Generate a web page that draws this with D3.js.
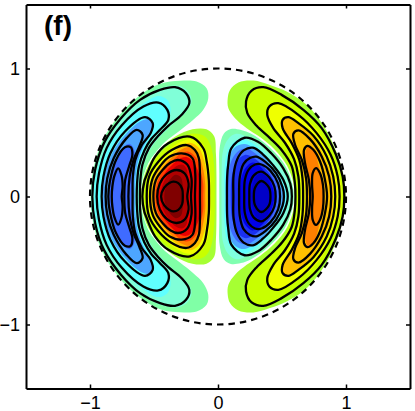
<!DOCTYPE html>
<html>
<head>
<meta charset="utf-8">
<script src="https://cdn.jsdelivr.net/npm/d3@7"></script>
<style>
  body { margin: 0; background: #fff; }
  text { font-family: "Liberation Sans", Arial, sans-serif; }
</style>
</head>
<body>
<div id="chart"></div>
<script>
// every shape below is the upper half of a contour,
// running from one point on y=0 to the other; the lower half is its mirror

var panelLabel = "(f)";
var tickValues = [-1, 0, 1];
var domainLimit = 1.5;
var rimRadius = 1;

// left crescent, filled bands, outer to inner
var leftOuterColors = ["#80ffa6", "#80ffd8", "#60ffff", "#4da6ff", "#3f6bff"];
var leftOuterBands = [
  [[-.995,0],[-.975,.208],[-.905,.43],[-.779,.625],[-.622,.781],[-.453,.88],[-.297,.904],[-.167,.898],[-.089,.846],[-.076,.768],[-.115,.677],[-.193,.599],[-.297,.516],[-.41,.43],[-.49,.34],[-.545,.26],[-.595,.11],[-.605,0]],
  [[-.992,0],[-.969,.208],[-.896,.417],[-.766,.604],[-.609,.755],[-.453,.846],[-.31,.865],[-.232,.82],[-.206,.742],[-.245,.664],[-.336,.581],[-.43,.49],[-.505,.405],[-.565,.29],[-.6,.13],[-.605,0]],
  [[-.97,0],[-.948,.195],[-.87,.391],[-.753,.56],[-.596,.716],[-.466,.786],[-.396,.755],[-.37,.677],[-.396,.586],[-.47,.513],[-.535,.43],[-.585,.32],[-.615,.18],[-.625,0]],
  [[-.9,0],[-.885,.169],[-.82,.352],[-.714,.495],[-.609,.586],[-.536,.604],[-.505,.56],[-.531,.482],[-.59,.375],[-.628,.26],[-.645,.13],[-.648,0]],
  [[-.86,0],[-.845,.13],[-.795,.286],[-.74,.385],[-.688,.411],[-.656,.37],[-.65,.273],[-.665,.15],[-.67,0]]
];

// left crescent, black contours
var leftOuterLines = [
  [[-.982,0],[-.96,.208],[-.891,.417],[-.76,.609],[-.609,.755],[-.453,.833],[-.336,.854],[-.25,.807],[-.224,.729],[-.284,.638],[-.388,.552],[-.466,.474],[-.54,.378],[-.59,.25],[-.607,.12],[-.61,0]],
  [[-.948,0],[-.93,.18],[-.87,.378],[-.753,.555],[-.583,.703],[-.466,.734],[-.396,.677],[-.388,.599],[-.453,.521],[-.52,.451],[-.575,.36],[-.618,.234],[-.632,.104],[-.635,0]],
  [[-.909,0],[-.895,.156],[-.84,.339],[-.727,.508],[-.57,.62],[-.51,.573],[-.526,.495],[-.594,.404],[-.646,.286],[-.665,.156],[-.667,0]],
  [[-.878,0],[-.865,.143],[-.815,.299],[-.714,.456],[-.635,.521],[-.589,.482],[-.615,.391],[-.66,.286],[-.69,.156],[-.7,0]],
  [[-.857,0],[-.845,.117],[-.797,.286],[-.727,.385],[-.682,.385],[-.669,.326],[-.695,.234],[-.725,.13],[-.732,0]],
  [[-.83,0],[-.825,.08],[-.81,.16],[-.78,.22],[-.755,.17],[-.745,.08],[-.752,0]]
];

// left kidney, filled bands, outer to inner
var leftInnerColors = ["#a6ff33", "#c8ff00", "#f0ff00", "#ffc000", "#ff8000", "#ff4000", "#e80000", "#b00000", "#800000"];
var leftInnerBands = [
  [[-.6,0],[-.585,.13],[-.53,.27],[-.44,.38],[-.33,.47],[-.2,.525],[-.09,.525],[-.03,.47],[-.016,.33],[-.012,.15],[-.012,0]],
  [[-.585,0],[-.57,.13],[-.515,.26],[-.425,.365],[-.32,.44],[-.21,.49],[-.105,.47],[-.055,.39],[-.03,.23],[-.025,0]],
  [[-.555,0],[-.54,.13],[-.49,.24],[-.41,.335],[-.32,.41],[-.22,.45],[-.13,.42],[-.08,.32],[-.06,.17],[-.055,0]],
  [[-.525,0],[-.51,.12],[-.46,.225],[-.39,.31],[-.3,.385],[-.22,.42],[-.15,.38],[-.105,.27],[-.085,.14],[-.08,0]],
  [[-.505,0],[-.49,.115],[-.44,.215],[-.37,.295],[-.29,.365],[-.22,.385],[-.16,.34],[-.12,.23],[-.1,.1],[-.1,0]],
  [[-.49,0],[-.475,.11],[-.425,.205],[-.36,.275],[-.29,.335],[-.23,.35],[-.17,.3],[-.135,.2],[-.115,.1],[-.115,0]],
  [[-.475,0],[-.46,.1],[-.41,.19],[-.35,.255],[-.29,.3],[-.235,.305],[-.18,.25],[-.145,.16],[-.135,0]],
  [[-.45,0],[-.43,.1],[-.385,.175],[-.33,.235],[-.28,.25],[-.245,.215],[-.24,.1],[-.24,0]],
  [[-.42,0],[-.405,.08],[-.365,.145],[-.33,.17],[-.29,.15],[-.275,.08],[-.275,0]]
];

// left kidney, black contours
var leftInnerLines = [
  [[-.591,0],[-.575,.12],[-.557,.168],[-.492,.311],[-.388,.416],[-.219,.467],[-.115,.377],[-.088,.272],[-.072,.13],[-.07,0]],
  [[-.557,0],[-.538,.156],[-.466,.272],[-.362,.363],[-.245,.402],[-.18,.363],[-.15,.3],[-.141,.168],[-.141,0]],
  [[-.531,0],[-.51,.143],[-.45,.24],[-.38,.31],[-.284,.337],[-.2,.3],[-.178,.18],[-.18,0]],
  [[-.505,0],[-.485,.13],[-.43,.21],[-.37,.265],[-.3125,.285],[-.24,.25],[-.207,.14],[-.211,0]],
  [[-.475,0],[-.455,.1],[-.4,.175],[-.323,.207],[-.26,.18],[-.23,.1],[-.24,0]],
  [[-.445,0],[-.42,.07],[-.38,.105],[-.349,.116],[-.31,.105],[-.28,.06],[-.275,0]]
];

// right crescent, filled bands, outer to inner
var rightOuterColors = ["#a6ff33", "#c8ff00", "#f0ff00", "#ffc000", "#ff8000"];
var rightOuterBands = [
  [[.995,0],[.98,.156],[.93,.335],[.825,.553],[.693,.716],[.536,.82],[.406,.872],[.276,.906],[.159,.891],[.094,.833],[.076,.768],[.081,.69],[.133,.612],[.224,.534],[.328,.464],[.44,.37],[.54,.24],[.59,.1],[.6,0]],
  [[.984,0],[.971,.143],[.914,.326],[.81,.534],[.667,.69],[.497,.807],[.354,.865],[.263,.833],[.219,.742],[.219,.664],[.263,.586],[.367,.49],[.475,.38],[.555,.24],[.6,.1],[.612,0]],
  [[.966,0],[.953,.143],[.888,.326],[.784,.508],[.641,.638],[.497,.729],[.419,.703],[.38,.638],[.406,.56],[.484,.469],[.565,.355],[.625,.21],[.645,.1],[.65,0]],
  [[.9,0],[.89,.143],[.83,.313],[.735,.469],[.62,.573],[.536,.612],[.497,.573],[.516,.495],[.589,.385],[.645,.26],[.675,.13],[.685,0]],
  [[.825,0],[.815,.12],[.79,.23],[.74,.38],[.705,.39],[.68,.33],[.695,.2],[.72,.1],[.725,0]]
];

// right crescent, black contours
var rightOuterLines = [
  [[.987,0],[.974,.156],[.922,.326],[.81,.534],[.667,.677],[.497,.794],[.354,.854],[.263,.828],[.219,.742],[.229,.651],[.302,.552],[.406,.456],[.5,.36],[.575,.24],[.6,.11],[.605,0]],
  [[.95,0],[.935,.156],[.88,.326],[.771,.495],[.628,.638],[.471,.729],[.401,.703],[.385,.638],[.432,.534],[.523,.42],[.595,.29],[.628,.156],[.635,0]],
  [[.916,0],[.9,.156],[.849,.313],[.745,.474],[.628,.573],[.549,.62],[.505,.599],[.505,.534],[.576,.417],[.635,.286],[.66,.143],[.665,0]],
  [[.885,0],[.868,.156],[.81,.313],[.719,.448],[.628,.516],[.589,.49],[.602,.404],[.655,.286],[.688,.143],[.695,0]],
  [[.852,0],[.836,.13],[.797,.273],[.745,.365],[.698,.396],[.672,.365],[.68,.26],[.71,.13],[.72,0]],
  [[.825,0],[.82,.091],[.797,.182],[.766,.222],[.74,.182],[.735,.091],[.74,0]]
];

// right kidney, filled bands, outer to inner
var rightInnerColors = ["#80ffb0", "#80ffdf", "#60ffff", "#4da6ff", "#3f6bff", "#1a30f0", "#0000e8", "#0000c8"];
var rightInnerBands = [
  [[.01,0],[.01,.18],[.013,.38],[.045,.49],[.1,.527],[.18,.52],[.26,.49],[.39,.397],[.52,.25],[.58,.1],[.592,0]],
  [[.028,0],[.028,.18],[.04,.36],[.08,.45],[.14,.49],[.22,.47],[.33,.4],[.45,.28],[.545,.13],[.572,0]],
  [[.05,0],[.05,.2],[.07,.34],[.12,.42],[.19,.45],[.28,.41],[.38,.32],[.47,.2],[.535,.08],[.55,0]],
  [[.06,0],[.065,.2],[.09,.32],[.14,.39],[.21,.41],[.29,.37],[.38,.29],[.46,.17],[.515,.07],[.525,0]],
  [[.075,0],[.08,.18],[.115,.3],[.165,.36],[.225,.375],[.3,.33],[.38,.25],[.45,.15],[.485,0]],
  [[.1,0],[.11,.17],[.15,.28],[.21,.325],[.28,.3],[.36,.23],[.43,.13],[.46,0]],
  [[.17,0],[.18,.14],[.22,.23],[.27,.265],[.33,.235],[.4,.14],[.44,0]],
  [[.26,0],[.27,.09],[.3,.16],[.34,.18],[.38,.15],[.41,.08],[.415,0]]
];

// right kidney, black contours
var rightInnerLines = [
  [[.07,0],[.072,.16],[.08,.25],[.104,.376],[.208,.459],[.3125,.428],[.416,.3375],[.51,.22],[.565,.1],[.577,0]],
  [[.12,0],[.122,.17],[.15,.29],[.2,.36],[.273,.381],[.35,.33],[.43,.245],[.51,.13],[.545,0]],
  [[.165,0],[.17,.15],[.2,.255],[.25,.3],[.3,.311],[.37,.27],[.455,.18],[.505,.07],[.515,0]],
  [[.205,0],[.21,.13],[.24,.21],[.29,.25],[.34,.25],[.41,.2],[.47,.1],[.485,0]],
  [[.245,0],[.25,.1],[.28,.165],[.339,.194],[.4,.15],[.44,.08],[.45,0]],
  [[.28,0],[.29,.07],[.339,.121],[.398,.07],[.41,0]]
];

// svg container
var width = 415;
var height = 411;
var margin = { top: 4.5, right: 5, bottom: 22.5, left: 26 };
var chartWidth = width - margin.left - margin.right;
var chartHeight = height - margin.top - margin.bottom;

var svg = d3.select("#chart").append("svg")
    .attr("width", width)
    .attr("height", height);

var chartGroup = svg.append("g")
    .attr("transform", `translate(${margin.left}, ${margin.top})`);

var xScale = d3.scaleLinear().domain([-domainLimit, domainLimit]).range([0, chartWidth]);
var yScale = d3.scaleLinear().domain([-domainLimit, domainLimit]).range([chartHeight, 0]);

var contourLine = d3.line()
    .x(d => xScale(d[0]))
    .y(d => yScale(d[1]))
    .curve(d3.curveCatmullRomClosed.alpha(0.5));

// add the mirrored lower half, leaving out the two points on y=0
function closeShape(half) {
  var lower = half.slice(1, -1).reverse().map(d => [d[0], -d[1]]);
  return half.concat(lower);
}

function drawBands(bands, colors) {
  chartGroup.append("g").selectAll("path")
      .data(bands)
      .enter()
      .append("path")
      .attr("d", d => contourLine(closeShape(d)))
      .attr("fill", (d, i) => colors[i]);
}

function drawLines(lines) {
  chartGroup.append("g").selectAll("path")
      .data(lines)
      .enter()
      .append("path")
      .attr("d", d => contourLine(closeShape(d)))
      .attr("fill", "none")
      .attr("stroke", "#000")
      .attr("stroke-width", 2.3);
}

drawBands(leftOuterBands, leftOuterColors);
drawBands(leftInnerBands, leftInnerColors);
drawBands(rightOuterBands, rightOuterColors);
drawBands(rightInnerBands, rightInnerColors);

drawLines(leftOuterLines);
drawLines(leftInnerLines);
drawLines(rightOuterLines);
drawLines(rightInnerLines);

// dashed unit circle
chartGroup.append("circle")
    .attr("cx", xScale(0))
    .attr("cy", yScale(0))
    .attr("r", xScale(rimRadius) - xScale(0))
    .attr("fill", "none")
    .attr("stroke", "#000")
    .attr("stroke-width", 2.2)
    .attr("stroke-dasharray", "6.5 5");

// axes: ticks point inward on all four sides, labels only bottom and left
var fmt = d => String(d).replace("-", "\u2212");

var axes = [
  { axis: d3.axisBottom(xScale).tickFormat(fmt), at: [0, chartHeight], pad: 8 },
  { axis: d3.axisLeft(yScale).tickFormat(fmt), at: [0, 0], pad: 6 },
  { axis: d3.axisTop(xScale).tickFormat(""), at: [0, 0], pad: 6 },
  { axis: d3.axisRight(yScale).tickFormat(""), at: [chartWidth, 0], pad: 6 }
];

axes.forEach(function (a) {
  var g = chartGroup.append("g")
      .attr("transform", `translate(${a.at[0]}, ${a.at[1]})`)
      .call(a.axis.tickValues(tickValues).tickSizeInner(-4).tickSizeOuter(0).tickPadding(a.pad));
  g.select(".domain").attr("stroke", "#000").attr("stroke-width", 2);
  g.selectAll(".tick line").attr("stroke", "#000").attr("stroke-width", 1.5);
  g.selectAll("text").attr("fill", "#000").attr("font-size", 18)
      .style("font-family", '"Liberation Sans", Arial, sans-serif');
});

chartGroup.append("text")
    .attr("x", xScale(-1.5) + 18)
    .attr("y", yScale(1.5) + 30.5)
    .attr("font-size", 28)
    .attr("font-weight", "bold")
    .text(panelLabel);
</script>
</body>
</html>
